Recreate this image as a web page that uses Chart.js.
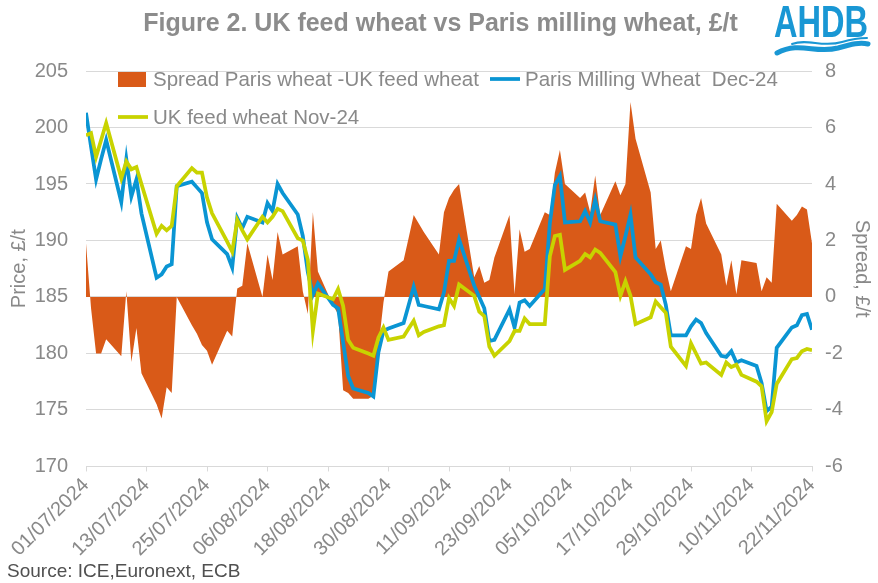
<!DOCTYPE html>
<html>
<head>
<meta charset="utf-8">
<script src="https://cdn.jsdelivr.net/npm/chart.js@4/dist/chart.umd.min.js"></script>
<style>
  html, body { margin: 0; padding: 0; background: #fff; }
  #wrap { width: 878px; height: 583px; }
</style>
</head>
<body>
<div id="wrap"><canvas id="wheatChart"></canvas></div>
<script>
// Giorni di contrattazione (lun-ven), 01/07/2024 - 22/11/2024
const tradingDays = [
  '01/07/2024','02/07/2024','03/07/2024','04/07/2024','05/07/2024',
  '08/07/2024','09/07/2024','10/07/2024','11/07/2024','12/07/2024',
  '15/07/2024','16/07/2024','17/07/2024','18/07/2024','19/07/2024',
  '22/07/2024','23/07/2024','24/07/2024','25/07/2024','26/07/2024',
  '29/07/2024','30/07/2024','31/07/2024','01/08/2024','02/08/2024',
  '05/08/2024','06/08/2024','07/08/2024','08/08/2024','09/08/2024',
  '12/08/2024','13/08/2024','14/08/2024','15/08/2024','16/08/2024',
  '19/08/2024','20/08/2024','21/08/2024','22/08/2024','23/08/2024',
  '26/08/2024','27/08/2024','28/08/2024','29/08/2024','30/08/2024',
  '02/09/2024','03/09/2024','04/09/2024','05/09/2024','06/09/2024',
  '09/09/2024','10/09/2024','11/09/2024','12/09/2024','13/09/2024',
  '16/09/2024','17/09/2024','18/09/2024','19/09/2024','20/09/2024',
  '23/09/2024','24/09/2024','25/09/2024','26/09/2024','27/09/2024',
  '30/09/2024','01/10/2024','02/10/2024','03/10/2024','04/10/2024',
  '07/10/2024','08/10/2024','09/10/2024','10/10/2024','11/10/2024',
  '14/10/2024','15/10/2024','16/10/2024','17/10/2024','18/10/2024',
  '21/10/2024','22/10/2024','23/10/2024','24/10/2024','25/10/2024',
  '28/10/2024','29/10/2024','30/10/2024','31/10/2024','01/11/2024',
  '04/11/2024','05/11/2024','06/11/2024','07/11/2024','08/11/2024',
  '11/11/2024','12/11/2024','13/11/2024','14/11/2024','15/11/2024',
  '18/11/2024','19/11/2024','20/11/2024','21/11/2024','22/11/2024'
];

// Paris Milling Wheat Dec-24, £/t
const parisDec24 = [
  201.3, 198.3, 195.4, 197.2, 198.9,  193.4, 197.2, 193.9, 195.4, 192.4,
  186.7, 187.0, 187.7, 187.9, 194.8,  195.2, 194.7, 194.2, 191.6, 190.1,
  188.8, 187.6, 192.0, 191.1, 192.1,  191.6, 193.3, 192.6, 195.0, 194.2,
  192.3, 190.4, 187.2, 185.2, 186.2,  184.3, 184.0, 181.0, 178.0, 176.9,
  176.5, 176.2, 180.1, 182.0, 182.2,  182.7, 184.3, 185.9, 184.3, 184.2,
  183.9, 185.4, 188.2, 188.2, 190.1,  186.0, 185.0, 184.0, 181.1, 181.2,
  183.9, 182.3, 184.5, 184.7, 184.2,  185.7, 191.5, 194.9, 195.7, 191.6,
  191.7, 192.6, 191.6, 193.6, 191.7,  191.4, 188.6, 190.4, 192.3, 188.5,
  187.0, 186.3, 186.1, 184.3, 181.6,  181.6, 182.4, 183.0, 182.7, 181.8,
  179.8, 179.7, 180.2, 179.2, 179.4,  178.9, 177.4, 174.9, 175.3, 180.5,
  182.3, 182.5, 183.4, 183.5, 182.1
];

// UK feed wheat Nov-24, £/t
const ukNov24 = [
  199.3, 199.5, 197.4, 198.9, 200.4,  195.5, 197.0, 196.3, 196.5, 195.0,
  190.6, 191.3, 190.9, 191.3, 194.8,  196.4, 196.0, 196.0, 193.8, 192.4,
  189.9, 189.0, 191.8, 190.9, 190.1,  192.1, 191.6, 192.1, 192.8, 192.6,
  190.2, 190.0, 188.3, 182.0, 185.3,  184.8, 185.7, 184.2, 181.2, 180.5,
  180.0, 179.8, 181.4, 182.3, 181.2,  181.5, 182.2, 182.9, 181.6, 181.9,
  182.4, 182.5, 184.9, 184.2, 186.1,  185.1, 183.7, 183.3, 180.6, 179.8,
  181.1, 182.0, 182.0, 183.1, 182.6,  182.6, 188.6, 190.4, 190.5, 187.4,
  188.2, 188.8, 188.5, 189.2, 188.9,  187.2, 185.1, 186.4, 185.1, 182.6,
  183.2, 184.6, 184.1, 183.6, 180.6,  178.9, 180.9, 180.0, 179.1, 179.2,
  178.1, 179.2, 178.8, 179.0, 178.1,  177.5, 177.1, 174.0, 174.8, 177.3,
  179.5, 179.6, 180.2, 180.4, 180.3
];

// Spread Paris wheat - UK feed wheat, £/t (asse destro)
const spreadParisUk = [
   1.9, -0.4, -2.0, -2.0, -1.5,  -2.1,  0.2, -2.3, -1.1, -2.7,
  -3.8, -4.3, -3.2, -3.4,  0.0,  -1.0, -1.3, -1.7, -1.9, -2.4,
  -1.2, -1.4,  0.3,  0.4,  1.9,   0.0,  1.5,  0.6,  2.3,  1.5,
   1.8,  0.2, -0.6,  3.0,  0.9,  -0.3, -0.6, -3.3, -3.4, -3.6,
  -3.6, -3.5, -1.8, -0.2,  0.9,   1.3,  2.1,  2.9,  2.6,  2.3,
   1.5,  3.0,  3.5,  3.8,  4.0,   0.7,  1.1,  0.5,  0.6,  1.4,
   2.9,  0.1,  2.4,  1.6,  1.7,   3.0,  2.9,  4.4,  5.2,  4.0,
   3.5,  3.7,  3.0,  4.3,  2.9,   4.1,  3.6,  4.0,  6.9,  5.6,
   3.7,  1.7,  2.0,  1.0,  0.2,   1.8,  1.7,  2.9,  3.5,  2.6,
   1.5,  0.4,  1.3,  0.1,  1.3,   1.2,  0.2,  0.7,  0.5,  3.3,
   2.7,  2.9,  3.2,  3.1,  1.9
];

const seriesLabels = [
  'Spread Paris wheat -UK feed wheat',
  'Paris Milling Wheat  Dec-24',
  'UK feed wheat Nov-24'
];

const priceRange = [170, 205, 5];     // min, max, passo (asse sinistro)
const spreadRange = [-6, 8, 2];       // min, max, passo (asse destro)
const dateStep = 12;                  // giorni tra le etichette dell'asse x

const grey = '#898989';
const font = "'Liberation Sans', Arial, sans-serif";
const DAY = 864e5;

function parseDate(s) {
  const [d, m, y] = s.split('/').map(Number);
  return Date.UTC(y, m - 1, d);
}
function fmtDate(ms) {
  const d = new Date(ms);
  const p = n => String(n).padStart(2, '0');
  return `${p(d.getUTCDate())}/${p(d.getUTCMonth() + 1)}/${d.getUTCFullYear()}`;
}

const t0 = parseDate(tradingDays[0]);
const dayIndex = tradingDays.map(s => Math.round((parseDate(s) - t0) / DAY));
const toPoints = arr => arr.map((v, i) => ({ x: dayIndex[i], y: v }));

// Legenda dentro l'area del grafico, come nell'originale
const insideLegend = {
  id: 'insideLegend',
  afterDraw(chart) {
    const { ctx, chartArea } = chart;
    const ds = chart.data.datasets;
    const l = chartArea.left, t = chartArea.top;
    const rows = [
      { i: 0, x: l + 32, y: t + 8 },
      { i: 1, x: l + 404, y: t + 8 },
      { i: 2, x: l + 32, y: t + 46 }
    ];
    ctx.save();
    ctx.font = `20.5px ${font}`;
    ctx.textBaseline = 'middle';
    rows.forEach(r => {
      const d = ds[r.i];
      if (d.fill) {
        ctx.fillStyle = d.backgroundColor;
        ctx.fillRect(r.x, r.y - 7, 28, 15);
      } else {
        ctx.strokeStyle = d.borderColor;
        ctx.lineWidth = 3.75;
        ctx.beginPath();
        ctx.moveTo(r.x, r.y);
        ctx.lineTo(r.x + 30, r.y);
        ctx.stroke();
      }
      ctx.fillStyle = grey;
      ctx.fillText(d.label, r.x + 35, r.y + 1);
    });
    ctx.restore();
  }
};

// Logo AHDB in alto a destra
const logo = {
  id: 'logo',
  afterDraw(chart) {
    const ctx = chart.ctx;
    ctx.save();
    ctx.fillStyle = '#1997d4';
    ctx.translate(774, 37);
    ctx.scale(0.74, 1);
    ctx.font = `bold 44px ${font}`;
    ctx.fillText('AHDB', 0, 0);
    ctx.restore();
    ctx.save();
    ctx.strokeStyle = '#1997d4';
    ctx.lineCap = 'round';
    ctx.lineWidth = 5;
    ctx.beginPath();
    ctx.moveTo(777, 53);
    ctx.bezierCurveTo(800, 41, 815, 54, 838, 48);
    ctx.bezierCurveTo(852, 44, 860, 42, 868, 44);
    ctx.stroke();
    ctx.lineWidth = 2;
    ctx.beginPath();
    ctx.moveTo(792, 44);
    ctx.bezierCurveTo(808, 38, 822, 48, 842, 42);
    ctx.bezierCurveTo(852, 39, 860, 38, 867, 38);
    ctx.stroke();
    ctx.restore();
  }
};

const ctx = document.getElementById('wheatChart').getContext('2d');
const wheatChart = new Chart(ctx, {
  type: 'line',
  data: {
    datasets: [
      {
        label: seriesLabels[0],
        data: toPoints(spreadParisUk),
        yAxisID: 'y1',
        fill: 'origin',
        backgroundColor: '#D95A18',
        borderWidth: 0,
        pointRadius: 0,
        tension: 0,
        order: 2
      },
      {
        label: seriesLabels[1],
        data: toPoints(parisDec24),
        yAxisID: 'y',
        borderColor: '#0A95D3',
        borderWidth: 3.75,
        pointRadius: 0,
        fill: false,
        tension: 0,
        order: 1
      },
      {
        label: seriesLabels[2],
        data: toPoints(ukNov24),
        yAxisID: 'y',
        borderColor: '#C8D300',
        borderWidth: 3.75,
        pointRadius: 0,
        fill: false,
        tension: 0,
        order: 0
      }
    ]
  },
  options: {
    responsive: true,
    maintainAspectRatio: false,
    animation: false,
    devicePixelRatio: 1,
    layout: { padding: { left: 7, right: 4, top: 0, bottom: 0 } },
    plugins: {
      legend: { display: false },
      tooltip: { enabled: false },
      title: {
        display: true,
        text: 'Figure 2. UK feed wheat vs Paris milling wheat, £/t',
        color: '#8c8c8c',
        font: { family: font, size: 25, weight: 'bold' },
        padding: { top: 9, bottom: 32 }
      },
      subtitle: {
        display: true,
        position: 'bottom',
        align: 'start',
        text: 'Source: ICE,Euronext, ECB',
        color: '#505050',
        font: { family: font, size: 19 },
        padding: { top: 2, bottom: 0 }
      }
    },
    scales: {
      x: {
        type: 'linear',
        min: 0,
        max: dayIndex[dayIndex.length - 1],
        border: { display: true, color: '#d9d9d9', width: 1 },
        grid: { display: true, drawOnChartArea: false, drawTicks: true, tickLength: 5, color: '#d9d9d9' },
        ticks: {
          stepSize: dateStep,
          autoSkip: false,
          minRotation: 45,
          maxRotation: 45,
          padding: 2,
          color: grey,
          font: { family: font, size: 20 },
          callback: v => fmtDate(t0 + v * DAY)
        },
        afterFit: s => { s.paddingLeft = 60; s.paddingRight = 0; s.height -= 5; }
      },
      y: {
        position: 'left',
        min: priceRange[0],
        max: priceRange[1],
        border: { display: false },
        grid: { color: '#d9d9d9', drawTicks: false },
        ticks: { stepSize: priceRange[2], padding: 18, color: grey, font: { family: font, size: 20 } },
        title: { display: true, text: 'Price, £/t', color: grey, font: { family: font, size: 20 }, padding: { top: 0, bottom: 4 } },
        afterFit: s => { s.width = 79; }
      },
      y1: {
        position: 'right',
        min: spreadRange[0],
        max: spreadRange[1],
        border: { display: false },
        grid: { display: false, drawTicks: false },
        ticks: { stepSize: spreadRange[2], padding: 13, color: grey, font: { family: font, size: 20 } },
        title: { display: true, text: 'Spread, £/t', color: grey, font: { family: font, size: 20 }, padding: { top: 0, bottom: 0 } },
        afterFit: s => { s.width = 62; }
      }
    }
  },
  plugins: [insideLegend, logo]
});
</script>
</body>
</html>
